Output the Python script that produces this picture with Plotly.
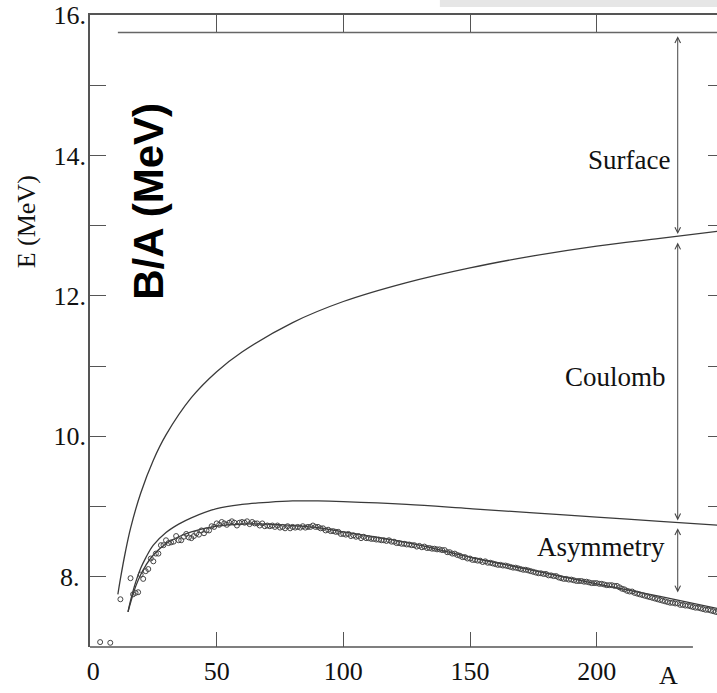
import numpy as np
import plotly.graph_objects as go

# ---------------- data ----------------
# measured binding energy per nucleon (open circles)
A_meas = [4, 8, 12] + list(range(16, 249))
BA_meas = [7.07, 7.06, 7.68,
    7.98, 7.75, 7.77, 7.78, 8.03, 7.97, 8.08, 8.11, 8.26, 8.22,
    8.33, 8.33, 8.45, 8.45, 8.52, 8.48, 8.49, 8.50, 8.58, 8.52,
    8.52, 8.57, 8.61, 8.56, 8.55, 8.58, 8.62, 8.60, 8.66, 8.62,
    8.66, 8.66, 8.72, 8.71, 8.76, 8.74, 8.78, 8.76, 8.74, 8.77,
    8.79, 8.77, 8.73, 8.77, 8.78, 8.77, 8.79, 8.75, 8.78, 8.76,
    8.76, 8.73, 8.76, 8.72, 8.73, 8.72, 8.73, 8.71, 8.73, 8.70,
    8.71, 8.69, 8.72, 8.69, 8.71, 8.70, 8.71, 8.70, 8.72, 8.70,
    8.71, 8.71, 8.73, 8.71, 8.71, 8.69, 8.69, 8.66, 8.67, 8.65,
    8.65, 8.64, 8.64, 8.61, 8.61, 8.60, 8.61, 8.58, 8.59, 8.57,
    8.58, 8.55, 8.57, 8.55, 8.55, 8.54, 8.54, 8.53, 8.53, 8.52,
    8.52, 8.51, 8.52, 8.50, 8.50, 8.48, 8.48, 8.47, 8.47, 8.46,
    8.46, 8.45, 8.45, 8.43, 8.44, 8.42, 8.43, 8.41, 8.41, 8.40,
    8.40, 8.39, 8.39, 8.38, 8.38, 8.35, 8.35, 8.33, 8.33, 8.31,
    8.30, 8.28, 8.28, 8.26, 8.26, 8.24, 8.24, 8.23, 8.23, 8.21,
    8.22, 8.20, 8.20, 8.19, 8.18, 8.17, 8.17, 8.16, 8.16, 8.15,
    8.14, 8.13, 8.13, 8.12, 8.11, 8.10, 8.10, 8.09, 8.08, 8.07,
    8.06, 8.05, 8.05, 8.04, 8.04, 8.02, 8.02, 8.01, 8.01, 7.99,
    7.98, 7.97, 7.97, 7.96, 7.96, 7.95, 7.94, 7.94, 7.94, 7.93,
    7.93, 7.92, 7.91, 7.91, 7.91, 7.90, 7.90, 7.89, 7.88, 7.88,
    7.88, 7.87, 7.87, 7.85, 7.83, 7.82, 7.80, 7.79, 7.79, 7.77,
    7.76, 7.75, 7.74, 7.73, 7.72, 7.71, 7.70, 7.69, 7.68, 7.67,
    7.66, 7.65, 7.64, 7.63, 7.63, 7.62, 7.62, 7.60, 7.60, 7.59,
    7.59, 7.58, 7.57, 7.56, 7.56, 7.55, 7.54, 7.53, 7.53, 7.52,
    7.51, 7.50, 7.49]

# volume term (horizontal line)
vol_A = [11, 250]
vol_E = [15.75, 15.75]

# volume + surface
surf_A = [11, 12, 14, 16, 20, 25, 30, 40, 50, 60, 80, 100, 125, 150, 175, 200, 225, 250]
surf_E = [7.75, 7.97, 8.36, 8.69, 9.19, 9.66, 10.02, 10.55, 10.92, 11.20, 11.62,
          11.92, 12.19, 12.40, 12.57, 12.71, 12.82, 12.93]

# volume + surface + Coulomb
coul_A = [15, 16, 18, 20, 22, 25, 30, 35, 40, 50, 60, 70, 80, 90, 100, 125, 150, 175, 200, 225, 250]
coul_E = [7.50, 7.66, 7.92, 8.12, 8.27, 8.45, 8.63, 8.75, 8.84, 8.97, 9.03, 9.06, 9.08,
          9.08, 9.07, 9.03, 8.97, 8.91, 8.85, 8.79, 8.73]

# full fit (volume + surface + Coulomb + asymmetry)
fit_A = [15, 16, 18, 20, 22, 25, 30, 35, 40, 50, 60, 70, 80, 90, 100, 125, 150, 175, 200, 225, 250]
fit_E = [7.50, 7.63, 7.86, 8.03, 8.16, 8.31, 8.47, 8.57, 8.64, 8.72, 8.75, 8.75, 8.73,
         8.70, 8.64, 8.49, 8.28, 8.09, 7.90, 7.72, 7.53]

x_ticks = [0, 50, 100, 150, 200]
x_ticktext = ["\u00a00", "50", "100", "150", "200"]
y_ticks = [8, 9, 10, 11, 12, 13, 14, 15, 16]
y_ticktext = ["8.\u00a0", "", "10.", "", "12.", "", "14.", "", "16."]

# ---------------- figure ----------------
LINE = "#3a3a3a"
AXC = "#555555"
SERIF = "Liberation Serif, Times New Roman, serif"

fig = go.Figure()

fig.add_trace(go.Scatter(x=vol_A, y=vol_E, mode="lines", xaxis="x2", yaxis="y2",
                         line=dict(color="#666666", width=1.6), hoverinfo="skip", showlegend=False))
fig.add_trace(go.Scatter(x=surf_A, y=surf_E, mode="lines", line_shape="spline",
                         line=dict(color=LINE, width=1.3), showlegend=False))
fig.add_trace(go.Scatter(x=coul_A, y=coul_E, mode="lines", line_shape="spline",
                         line=dict(color=LINE, width=1.3), showlegend=False))
fig.add_trace(go.Scatter(x=fit_A, y=fit_E, mode="lines", line_shape="spline",
                         line=dict(color=LINE, width=1.3), showlegend=False))
fig.add_trace(go.Scatter(x=A_meas, y=BA_meas, mode="markers",
                         marker=dict(symbol="circle-open", size=5, color="#444444",
                                     line=dict(width=1)),
                         showlegend=False))

# arrows between the curves
A_arr = 232
e_vol = np.interp(A_arr, vol_A, vol_E)
e_surf = np.interp(A_arr, surf_A, surf_E)
e_coul = np.interp(A_arr, coul_A, coul_E)
e_fit = np.interp(A_arr, fit_A, fit_E)

def dbl_arrow(y_top, y_bot):
    fig.add_annotation(x=A_arr, y=y_bot, ax=A_arr, ay=y_top, axref="x", ayref="y",
                       xref="x", yref="y", text="", showarrow=True,
                       arrowside="end+start", arrowhead=5, startarrowhead=5,
                       arrowsize=1.1, startarrowsize=1.1, arrowwidth=1,
                       arrowcolor="#444444", standoff=0, startstandoff=0)

dbl_arrow(e_vol - 0.03, e_surf + 0.03)
dbl_arrow(e_surf - 0.07, e_coul + 0.03)
dbl_arrow(e_coul - 0.06, e_fit + 0.11)

labels = [("Surface", 229.8, 13.94), ("Coulomb", 228.3, 10.85), ("Asymmetry", 227.8, 8.42)]
for txt, ax_, ay_ in labels:
    fig.add_annotation(x=ax_, y=ay_, xref="x", yref="y", text=txt, showarrow=False,
                       xanchor="right", yanchor="middle",
                       font=dict(family=SERIF, size=27, color="#111111"))

# axis titles
fig.add_annotation(x=228.2, y=-0.0712, xref="x", yref="paper", text="A", showarrow=False,
                   xanchor="center", yanchor="bottom",
                   font=dict(family=SERIF, size=26, color="#111111"))
fig.add_annotation(x=-0.102, y=0.672, xref="paper", yref="paper", text="E (MeV)",
                   showarrow=False, textangle=-90, xanchor="center", yanchor="middle",
                   font=dict(family=SERIF, size=26, color="#111111"))
fig.add_annotation(x=0.094, y=0.706, xref="paper", yref="paper", text="<b>B/A (MeV)</b>",
                   showarrow=False, textangle=-90, xanchor="center", yanchor="middle",
                   font=dict(family="Liberation Sans, Arial, sans-serif",
                             size=42, color="#000000"))

# bottom axis line and grey strip at the top
fig.add_shape(type="line", xref="x", yref="paper", x0=0, x1=238, y0=0, y1=0,
              line=dict(color=AXC, width=1.5))
fig.add_shape(type="rect", xref="paper", yref="paper", x0=0.558, x1=1.0, y0=1.0127, y1=1.03,
              fillcolor="#e6e6e6", line=dict(width=0), layer="below")

fig.update_layout(
    width=717, height=693,
    margin=dict(l=90, r=0, t=15, b=46, pad=0),
    paper_bgcolor="white", plot_bgcolor="white",
    showlegend=False,
    xaxis=dict(range=[0, 247.5], tickvals=x_ticks, ticktext=x_ticktext,
               ticks="inside", ticklen=15, tickwidth=1.2, tickcolor=AXC,
               showline=False, showgrid=False, zeroline=False,
               tickfont=dict(family=SERIF, size=26, color="#111111"),
               ticklabelstandoff=6),
    xaxis2=dict(overlaying="x", side="top", matches="x", tickvals=[50, 100, 150, 200],
                ticks="inside", ticklen=17, tickwidth=1.2, tickcolor=AXC,
                showticklabels=False, showline=True, linecolor=AXC, linewidth=1.5,
                showgrid=False, zeroline=False),
    yaxis=dict(range=[7, 16], tickvals=y_ticks, ticktext=y_ticktext,
               ticks="inside", ticklen=16, tickwidth=1.2, tickcolor=AXC,
               showline=True, linecolor=AXC, linewidth=1.5,
               showgrid=False, zeroline=False,
               tickfont=dict(family=SERIF, size=26, color="#111111"),
               ticklabelstandoff=-3),
    yaxis2=dict(overlaying="y", side="right", matches="y", tickvals=y_ticks[:-1],
                ticks="inside", ticklen=9, tickwidth=1.2, tickcolor=AXC,
                showticklabels=False, showline=False, showgrid=False, zeroline=False),
)

fig.write_html("out.html")
